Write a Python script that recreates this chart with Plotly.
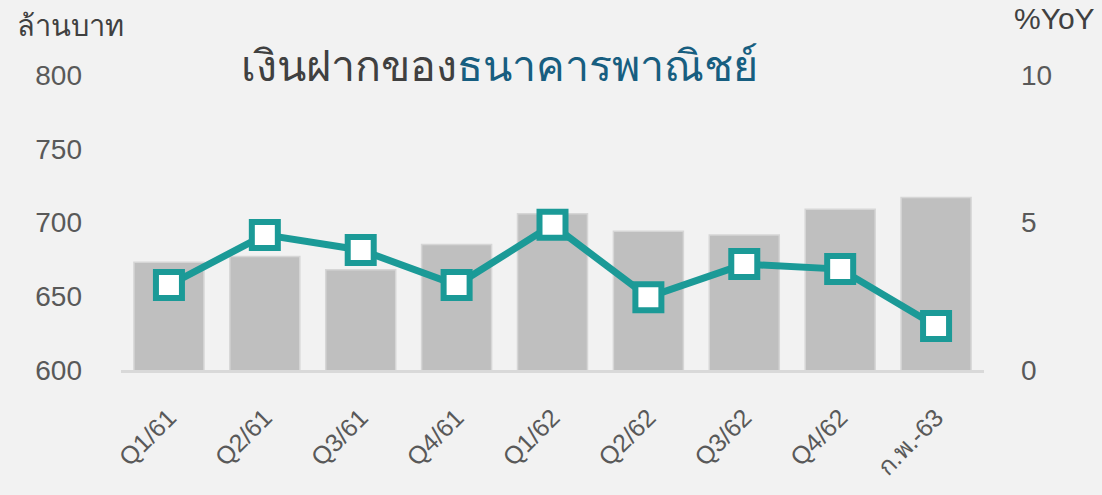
import plotly.graph_objects as go

categories = ["Q1/61", "Q2/61", "Q3/61", "Q4/61", "Q1/62", "Q2/62", "Q3/62", "Q4/62", "ก.พ.-63"]
deposits = [673, 677, 668, 685, 706, 694, 691.5, 709, 717]
yoy = [2.88, 4.58, 4.07, 2.88, 4.92, 2.47, 3.59, 3.42, 1.49]
left_ticks = [600, 650, 700, 750, 800]
right_ticks = [0, 5, 10]

FONT = "Liberation Sans, Arial, Noto Sans, DejaVu Sans, sans-serif"
GREY_TXT = "#595959"
TEAL = "#1b9a97"

fig = go.Figure()
fig.add_trace(go.Bar(
    x=categories, y=deposits, yaxis="y",
    marker=dict(color="#bfbfbf", line=dict(color="#d6d6d6", width=1.5)),
    width=0.73,
))
fig.add_trace(go.Scatter(
    x=categories, y=yoy, yaxis="y2", mode="lines+markers",
    line=dict(color=TEAL, width=7),
    marker=dict(symbol="square", size=26, color="white", line=dict(color=TEAL, width=6)),
))

fig.update_layout(
    width=1102, height=495,
    margin=dict(l=121, r=118, t=75, b=125),
    paper_bgcolor="#f2f2f2", plot_bgcolor="#f2f2f2",
    showlegend=False,
    font=dict(family=FONT, color=GREY_TXT),
    xaxis=dict(
        type="category", tickangle=-45, showgrid=False,
        showline=True, linecolor="#d9d9d9", linewidth=3,
        tickfont=dict(size=25, color=GREY_TXT), ticks="",
        ticklabelstandoff=20,
        range=[-0.5, 8.5],
    ),
    yaxis=dict(
        range=[600, 800], tickvals=left_ticks, showgrid=False, zeroline=False,
        tickfont=dict(size=28, color=GREY_TXT), ticks="", ticklabelstandoff=38,
    ),
    yaxis2=dict(
        range=[0, 10], tickvals=right_ticks, overlaying="y", side="right",
        showgrid=False, zeroline=False,
        tickfont=dict(size=28, color=GREY_TXT), ticks="", ticklabelstandoff=36,
    ),
    annotations=[
        dict(text="ล้านบาท", xref="paper", yref="paper", x=-0.123, y=1.165,
             xanchor="left", yanchor="middle", showarrow=False,
             font=dict(size=29, color="#404040", family=FONT)),
        dict(text="%YoY", xref="paper", yref="paper", x=1.131, y=1.19,
             xanchor="right", yanchor="middle", showarrow=False,
             font=dict(size=30, color="#404040", family=FONT)),
        dict(text="เงินฝากของ<span style='color:#175e80'>ธนาคารพาณิชย์</span>",
             xref="paper", yref="paper", x=0.137, y=1.03,
             xanchor="left", yanchor="middle", showarrow=False,
             font=dict(size=43, color="#404040", family=FONT)),
    ],
)

fig.write_html("out.html", config={"displayModeBar": False},
               post_script="document.body.style.margin='0';")
